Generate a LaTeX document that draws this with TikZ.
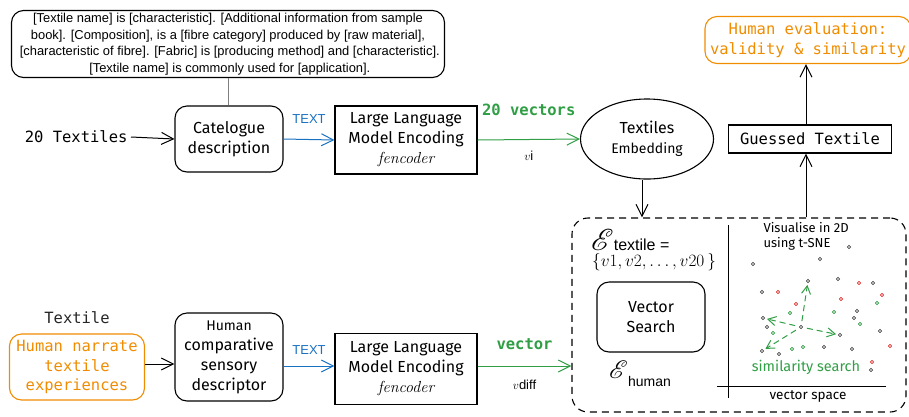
\documentclass[tikz,border=0pt]{standalone}
\usepackage{fontspec}
\usepackage{amsmath}
\usepackage{mathrsfs}
\usetikzlibrary{arrows.meta, shapes.geometric}
\usepackage{xcolor}

\newfontfamily\arialfont{Liberation Sans}
\newfontfamily\monofont{DejaVu Sans Mono}
\newfontfamily\handfont{Fira Sans}

\definecolor{xblue}{HTML}{1971C2}
\definecolor{xgreen}{HTML}{2F9E44}
\definecolor{xorange}{HTML}{F08C00}
\definecolor{xred}{HTML}{E03131}

\newcommand{\scriptE}{\scalebox{1.75}{$\mathscr{E}$}}

\tikzset{
  arr/.style={-{Straight Barb[length=12pt,width=12pt]}, line width=1pt},
  simarr/.style={-{Straight Barb[length=8pt,width=9pt]}, xgreen, line width=1pt, dash pattern=on 6pt off 4pt},
  box/.style={draw, line width=1.1pt, align=center, inner sep=2pt},
  roundbox/.style={box, rounded corners=12pt},
  hand/.style={font=\handfont\fontsize{16}{20}\selectfont},
  code/.style={font=\monofont\fontsize{15.5}{19.5}\selectfont},
}

\begin{document}
\begin{tikzpicture}[x=1pt,y=-1pt]
        \useasboundingbox (0,0) rectangle (909,416);

        % first row: catalogue path
        \node[roundbox, minimum width=433pt, minimum height=67pt, font=\arialfont\fontsize{12.9}{16.5}\selectfont] (template) at (228,44)
          {[Textile name] is [characteristic]. [Additional information from sample\\
           book]. [Composition], is a [fibre category] produced by [raw material],\\{}
           [characteristic of fibre]. [Fabric] is [producing method] and [characteristic].\\{}
           [Textile name] is commonly used for [application].};

        \node[code, anchor=east] (textiles) at (131,137) {20 Textiles};

        \node[roundbox, hand, minimum width=108pt, minimum height=66pt] (catalogue) at (229,139) {Catelogue\\description};

        \node[box, hand, minimum width=142pt, minimum height=68pt] (llmtop) at (406,140) {Large Language\\Model Encoding\\{\rmfamily\itshape fencoder}};

        \node[draw, ellipse, line width=1.1pt, minimum width=133pt, minimum height=80pt, align=center, hand] (embed) at (647,139)
          {Textiles\\{\fontsize{14}{18}\selectfont Embedding}};

        \node[box, code, minimum width=163pt, minimum height=28pt] (guessed) at (810,139) {Guessed Textile};

        \node[roundbox, code, draw=xorange, text=xorange, minimum width=206pt, minimum height=47pt] (evaluation) at (808,40)
          {Human evaluation:\\validity \& similarity};

        \draw[gray, line width=0.8pt] (template.south) -- (template.south |- catalogue.north);

        \draw[arr] (textiles.east) -- (catalogue.west);

        \draw[arr, xblue] (catalogue.east) -- (llmtop.west)
          node[midway, above=12pt, font=\arialfont\fontsize{13}{15}\selectfont] (texttop) {TEXT};

        \draw[arr, xgreen] (llmtop.east) -- (embed.west)
          node[midway, above=20pt, font=\monofont\bfseries\fontsize{15.5}{18}\selectfont] (vecstop) {20 vectors}
          node[midway, below=8pt, text=black, font=\arialfont\fontsize{13}{15}\selectfont] (vi) {$v$i};

        % second row: human path
        \node[code, text=black!85] (textilelabel) at (77,318) {Textile};

        \node[roundbox, code, draw=xorange, text=xorange, minimum width=135pt, minimum height=66pt] (narrate) at (77,367)
          {Human narrate\\textile \\experiences};

        \node[roundbox, hand, minimum width=108pt, minimum height=88pt] (descriptor) at (229,357)
          {{\fontsize{14}{20}\selectfont Human}\\comparative\\sensory\\descriptor};

        \node[box, hand, minimum width=142pt, minimum height=71pt] (llmbottom) at (406,369) {Large Language\\Model Encoding\\{\rmfamily\itshape fencoder}};

        \node[draw, line width=1.1pt, dash pattern=on 7pt off 5pt, rounded corners=16pt, minimum width=334pt, minimum height=194pt] (searchspace) at (739,315) {};

        \draw[arr] ([yshift=3pt]narrate.east) -- ([yshift=3pt]narrate.east -| descriptor.west);

        \draw[arr, xblue] ([yshift=3pt]descriptor.east |- llmbottom.west) -- ([yshift=3pt]llmbottom.west)
          node[midway, above=8pt, font=\arialfont\fontsize{13}{15}\selectfont] (textbottom) {TEXT};

        \draw[arr, xgreen] ([yshift=3pt]llmbottom.east) -- ([yshift=3pt]llmbottom.east -| searchspace.west)
          node[midway, above=12pt, font=\monofont\bfseries\fontsize{15.5}{18}\selectfont] (vecbottom) {vector}
          node[midway, below=10pt, text=black, font=\arialfont\fontsize{13}{15}\selectfont] (vdiff) {$v$diff};

        \draw[arr] ([xshift=-5pt]embed.south) -- ([xshift=-5pt]embed.south |- searchspace.north);

        \draw[arr] ([xshift=-4pt]guessed.south |- searchspace.north) -- ([xshift=-4pt]guessed.south);

        \draw[arr] ([xshift=-4pt]guessed.north) -- ([xshift=-4pt]guessed.north |- evaluation.south);

        % inside the search space
        \node[anchor=west, inner sep=0pt, font=\arialfont\fontsize{16}{19}\selectfont] (etextile) at (591,240) {\scriptE textile =};

        \node[anchor=west, inner sep=0pt, font=\fontsize{16}{19}\selectfont] (vset) at (592,262) {$\{v1, v2, \ldots, v20\,\}$};

        \node[roundbox, hand, minimum width=108pt, minimum height=70pt] (vectorsearch) at (651,317) {Vector\\Search};

        \node[anchor=west, inner sep=0pt, font=\arialfont\fontsize{14}{16}\selectfont] (ehuman) at (609,374)
          {\scriptE\raisebox{-8pt}{human}};

        \draw[line width=0.8pt] (728,225) -- (728,398);
        \draw[line width=0.8pt] (717,386) -- (886,386);

        \node[anchor=west, align=left, font=\handfont\fontsize{13}{15}\selectfont] (tsne) at (760,236) {Visualise in 2D\\using t-SNE};

        \node[font=\handfont\fontsize{13.5}{16}\selectfont] (vspace) at (808,396) {vector space};

        \node[text=xgreen, font=\handfont\fontsize{14.5}{16}\selectfont] (simsearch) at (806,367) {similarity search};

        \foreach \px/\py in {849/247, 753/264, 820/259, 808/281, 838/279, 873/283, 762/292, 857/311, 854/318, 763/318,
                             767/327, 801/327, 840/335, 880/331, 824/347, 852/349, 762/351, 779/354, 871/370}
          \filldraw[draw=black!70, fill=black!20, line width=0.5pt] (\px,\py) circle [radius=1.8pt];

        \foreach \px/\py in {859/283, 778/292, 882/295, 841/299, 796/304, 890/346, 872/362}
          \filldraw[draw=xred, fill=xred!30, line width=0.5pt] (\px,\py) circle [radius=1.8pt];

        \foreach \px/\py in {790/313, 834/312, 877/303, 860/324, 773/333, 792/349, 803/347}
          \filldraw[draw=xgreen, fill=xgreen!30, line width=0.5pt] (\px,\py) circle [radius=1.8pt];

        \coordinate (pc) at (801,327);
        \coordinate (pu) at (808,281);
        \coordinate (pl) at (763,318);
        \coordinate (pr) at (840,335);
        \coordinate (pd) at (762,351);

        \draw[simarr, shorten <=6pt, shorten >=4pt] (pc) -- (pu);
        \draw[simarr, shorten <=6pt, shorten >=4pt] (pc) -- (pl);
        \draw[simarr, shorten <=6pt, shorten >=4pt] (pc) -- (pr);
        \draw[simarr, shorten <=6pt, shorten >=4pt] (pc) -- (pd);
    \end{tikzpicture}
\end{document}
